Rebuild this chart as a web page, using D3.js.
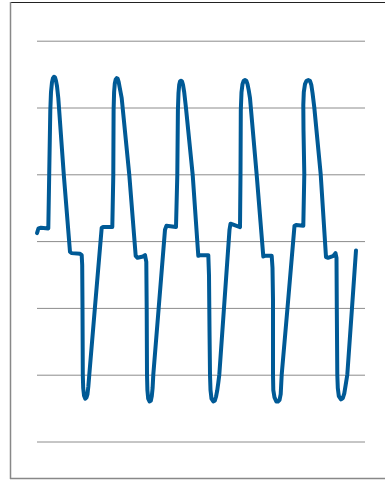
<!DOCTYPE html>
<html>
<head>
<meta charset="utf-8">
<script src="https://cdn.jsdelivr.net/npm/d3@7"></script>
<style>
  html, body { margin: 0; padding: 0; background: #fff; }
  svg { display: block; }
</style>
</head>
<body>
<svg id="chart" width="385" height="480"></svg>
<script>
// Time axis (arbitrary units) and signal values
const timeValues = [
  0, 1.5, 4, 11.3, 12.2, 13.3, 14, 15, 16, 17, 18, 19, 20, 21.3, 26.8, 33, 34.5, 43, 44.7, 45.2, 45.5, 45.8, 46.2, 47, 48.3, 49.5, 50.5, 51.3, 52.3, 57.9, 64.7, 66, 75.3,
  76.3, 76.6, 77.1, 77.8, 78.7, 79.7, 80.7, 81.7, 82.8, 84.7, 92.3, 98.7, 100.5, 106, 108, 109.3, 109.7, 110, 110.4, 111.2, 112.5, 113.8, 114.8, 115.6, 116.3, 121.7, 128, 129.5, 139,
  140.3, 140.9, 141.5, 142.2, 143, 144, 145, 146, 147.2, 149, 155.7, 161.3, 163, 171.3, 172, 172.5, 173, 173.5, 174.5, 176.3, 177.8, 179, 180.2, 181.3, 182.3, 187, 192.5, 193.5, 203,
  203.5, 203.8, 204.5, 205.5, 206.7, 208, 209.3, 210.5, 211.7, 213, 219.7, 226.3, 228, 234.7, 235.5, 236, 236, 236.3, 237.5, 239.3, 241, 242.5, 243.7, 244.7, 250.5, 257.5, 259, 266.3,
  267.3, 266.5, 266.3, 266.8, 268, 269.5, 271.3, 273, 274.3, 275.5, 277.3, 283.7, 289, 291, 296.5, 298.5, 299.5, 299.8, 300.3, 300.8, 301.8, 304, 305.8, 307.3, 308.6, 310.3, 315, 319
];
const signalValues = [
  0.12, 0.19, 0.20, 0.19, 0.99, 1.96, 2.23, 2.38, 2.44, 2.46, 2.45, 2.40, 2.32, 2.14, 0.99, -0.16, -0.18, -0.19, -0.21, -0.36, -1.00, -2.00, -2.20, -2.31, -2.36, -2.34, -2.29, -2.18, -2.00, -1.00, 0.20, 0.21, 0.21,
  0.99, 1.96, 2.23, 2.36, 2.42, 2.44, 2.43, 2.38, 2.29, 2.14, 0.99, -0.22, -0.25, -0.23, -0.21, -0.31, -1.00, -2.00, -2.23, -2.36, -2.40, -2.39, -2.32, -2.20, -2.00, -1.00, 0.17, 0.23, 0.21,
  0.99, 1.96, 2.22, 2.34, 2.39, 2.40, 2.39, 2.34, 2.23, 1.99, 0.99, -0.22, -0.21, -0.21, -0.51, -1.33, -2.00, -2.23, -2.36, -2.40, -2.39, -2.33, -2.24, -2.12, -2.00, -1.00, 0.17, 0.26, 0.21,
  0.99, 1.96, 2.23, 2.35, 2.40, 2.41, 2.40, 2.35, 2.26, 2.14, 0.99, -0.23, -0.22, -0.22, -0.40, -0.88, -2.00, -2.23, -2.34, -2.40, -2.40, -2.38, -2.29, -2.00, -1.00, 0.23, 0.24, 0.23,
  1.00, 1.66, 2.04, 2.23, 2.35, 2.40, 2.41, 2.40, 2.34, 2.22, 2.00, 1.00, -0.24, -0.25, -0.22, -0.18, -0.25, -1.00, -2.00, -2.20, -2.32, -2.37, -2.35, -2.28, -2.16, -2.00, -1.00, -0.14
];
const gridTicks = [-3, -2, -1, 0, 1, 2, 3];
const xDomain = [0, 328];
const yDomain = [-3, 3];

const svg = d3.select("#chart");
const plot = { left: 37, right: 365, top: 40.7, bottom: 441.5 };

const x = d3.scaleLinear().domain(xDomain).range([plot.left, plot.right]);
const y = d3.scaleLinear().domain(yDomain).range([plot.bottom, plot.top]);

// Frame
svg.append("line").attr("x1", 10).attr("x2", 385).attr("y1", 2.5).attr("y2", 2.5)
  .attr("stroke", "#222").attr("stroke-width", 1);
svg.append("line").attr("x1", 10.5).attr("x2", 10.5).attr("y1", 2).attr("y2", 479)
  .attr("stroke", "#888").attr("stroke-width", 1.5);
svg.append("line").attr("x1", 10).attr("x2", 385).attr("y1", 478.5).attr("y2", 478.5)
  .attr("stroke", "#888").attr("stroke-width", 1.5);

// Gridlines from the y axis
const yAxis = d3.axisLeft(y).tickValues(gridTicks)
  .tickSize(-(plot.right - plot.left)).tickFormat("");
const g = svg.append("g").attr("transform", `translate(${plot.left},0)`).call(yAxis);
g.select(".domain").remove();
g.selectAll(".tick line").attr("stroke", "#8c8c8c").attr("stroke-width", 1);

// Signal line
const data = timeValues.map((t, i) => ({ t, v: signalValues[i] }));
const line = d3.line()
  .x(d => x(d.t))
  .y(d => y(d.v))
  .curve(d3.curveLinear);

svg.append("path")
  .datum(data)
  .attr("d", line)
  .attr("fill", "none")
  .attr("stroke", "#005a96")
  .attr("stroke-width", 4)
  .attr("stroke-linejoin", "round")
  .attr("stroke-linecap", "round");
</script>
</body>
</html>
